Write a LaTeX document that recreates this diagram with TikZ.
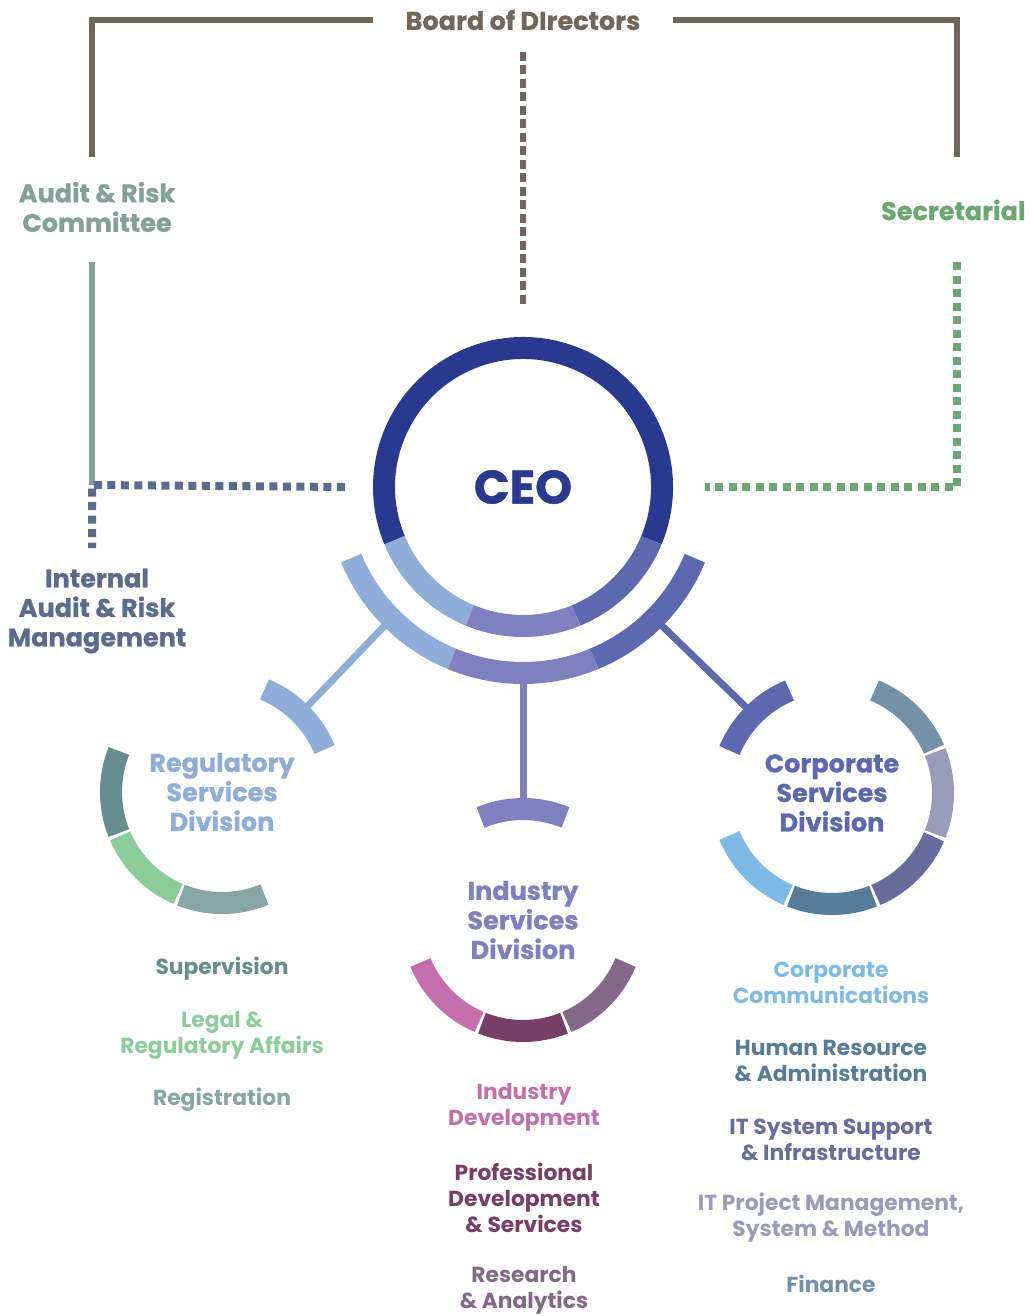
\documentclass[tikz,border=0pt]{standalone}
\usepackage{fontspec}
\setmainfont{Poppins}
\definecolor{boardc}{HTML}{72655A}
\definecolor{auditc}{HTML}{84A09A}
\definecolor{intc}{HTML}{5A6B8E}
\definecolor{secc}{HTML}{6BA770}
\definecolor{navy}{HTML}{2A3990}
\definecolor{rsdc}{HTML}{8FADD9}
\definecolor{isdc}{HTML}{7F80BF}
\definecolor{csdc}{HTML}{5C68B0}
\definecolor{supc}{HTML}{668E8F}
\definecolor{legc}{HTML}{8CCC9A}
\definecolor{regc}{HTML}{86A5A5}
\definecolor{indc}{HTML}{C46FAC}
\definecolor{proc}{HTML}{773F68}
\definecolor{resc}{HTML}{836888}
\definecolor{comc}{HTML}{7DBBE6}
\definecolor{hrc}{HTML}{557D9A}
\definecolor{itsc}{HTML}{676C9C}
\definecolor{itpc}{HTML}{9A9ABB}
\definecolor{finc}{HTML}{7391A8}
\newcommand{\ringpart}[5]{\draw[line width=22pt,#5] (#1) ++(#2:#4) arc[start angle=#2, end angle=#3, radius=#4];}
\begin{document}
\begin{tikzpicture}
    [x=1pt, y=1pt,
    head/.style={font=\fontsize{25.5}{29.5}\selectfont\bfseries\addfontfeatures{FakeBold=0.8}, align=center},
    item/.style={font=\fontsize{21.8}{26}\selectfont\bfseries, align=center},
    hubring/.style={circle, inner sep=0pt, minimum size=#1},
    boardline/.style={boardc, line width=6pt},
    boarddash/.style={boardc, line width=6pt, dash pattern=on 9pt off 4.5pt},
    auditline/.style={auditc, line width=6pt},
    intline/.style={intc, line width=8pt, dash pattern=on 8pt off 5.5pt},
    secline/.style={secc, line width=8pt, dash pattern=on 8pt off 5.5pt},
    linkline/.style={line width=7pt}]
    \useasboundingbox (0,0) rectangle (1033,-1316);
    \node[head, text=boardc, inner xsep=32pt] (board) at (523,-20) {Board of DIrectors};
    \node[head, text=auditc] (arc) at (97,-207) {Audit \& Risk\\Committee};
    \node[head, text=secc, anchor=east] (sec) at (1029,-210) {Secretarial};
    \node[head, text=intc] (iarm) at (97,-611) {Internal\\Audit \& Risk\\Management};
    \node[hubring=300pt, text=navy, font=\fontsize{47}{47}\selectfont\bfseries\addfontfeatures{FakeBold=1}] (ceo) at (523,-487) {CEO};
    \node[hubring=372pt] (hub) at (ceo) {};
    \node[hubring=222pt, head, text=rsdc] (rsd) at (222,-792) {Regulatory\\Services\\Division};
    \node[hubring=222pt, head, text=isdc] (isd) at (523,-920) {Industry\\Services\\Division};
    \node[hubring=222pt, head, text=csdc] (csd) at (832,-793) {Corporate\\Services\\Division};
    \coordinate (bl) at (92,-157); \coordinate (br) at (957,-157);
    \coordinate (al) at (92,-262); \coordinate (jn) at (92,-485);
    \coordinate (il) at (92,-548); \coordinate (sr) at (957,-262);
    \draw[boardline] (board.west) -| (bl);
    \draw[boardline] (board.east) -| (br);
    \draw[boarddash] ([yshift=-18pt]board.south) -- ([yshift=32pt]ceo.north);
    \draw[auditline] (al) -- (jn);
    \draw[intline] ([xshift=-28pt]ceo.west) -- (jn) -- (il);
    \draw[secline] (sr) |- ([xshift=32pt]ceo.east);
    \draw[linkline, rsdc] (hub.-135) -- (rsd.45);
    \draw[linkline, isdc] (hub.-90) -- (isd.90);
    \draw[linkline, csdc] (hub.-45) -- (csd.135);
    \ringpart{ceo}{-22.5}{202.5}{139}{navy}
    \ringpart{ceo}{202.5}{247.5}{139}{rsdc}
    \ringpart{ceo}{247.5}{292.5}{139}{isdc}
    \ringpart{ceo}{292.5}{337.5}{139}{csdc}
    \ringpart{ceo}{202.5}{247.5}{186}{rsdc}
    \ringpart{ceo}{247.5}{292.5}{186}{isdc}
    \ringpart{ceo}{292.5}{337.5}{186}{csdc}
    \ringpart{rsd}{22.5}{67.5}{111}{rsdc}
    \ringpart{rsd}{158.3}{201.7}{111}{supc}
    \ringpart{rsd}{203.3}{246.7}{111}{legc}
    \ringpart{rsd}{248.3}{292.5}{111}{regc}
    \ringpart{isd}{67.5}{112.5}{111}{isdc}
    \ringpart{isd}{202.5}{246.7}{111}{indc}
    \ringpart{isd}{248.3}{291.7}{111}{proc}
    \ringpart{isd}{293.3}{337.5}{111}{resc}
    \ringpart{csd}{112.5}{157.5}{111}{csdc}
    \ringpart{csd}{67.5}{23.3}{111}{finc}
    \ringpart{csd}{21.7}{-21.7}{111}{itpc}
    \ringpart{csd}{-23.3}{-66.7}{111}{itsc}
    \ringpart{csd}{-68.3}{-111.7}{111}{hrc}
    \ringpart{csd}{-113.3}{-157.5}{111}{comc}
    \node[item, text=supc] (sup) at (222,-969) {Supervision};
    \node[item, text=legc] (legal) at (222,-1035) {Legal \&\\Regulatory Affairs};
    \node[item, text=regc] (regis) at (222,-1100) {Registration};
    \node[item, text=indc] (inddev) at (524,-1107) {Industry\\Development};
    \node[item, text=proc] (prodev) at (524,-1198) {Professional\\Development\\\& Services};
    \node[item, text=resc] (resan) at (524,-1290) {Research\\\& Analytics};
    \node[item, text=comc] (ccom) at (831,-983) {Corporate\\Communications};
    \node[item, text=hrc] (hradm) at (831,-1061) {Human Resource\\\& Administration};
    \node[item, text=itsc] (itsup) at (831,-1140) {IT System Support\\\& Infrastructure};
    \node[item, text=itpc] (itpro) at (831,-1218) {IT Project Management,\\System \& Method};
    \node[item, text=finc] (fin) at (831,-1284) {Finance};
\end{tikzpicture}
\end{document}
